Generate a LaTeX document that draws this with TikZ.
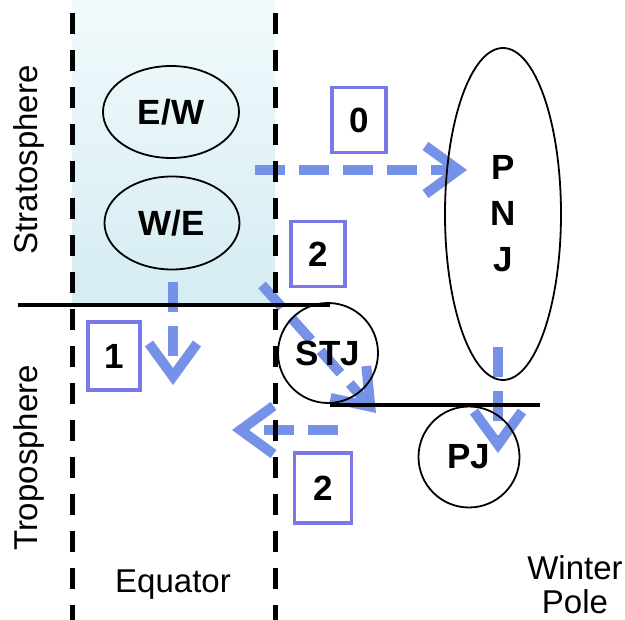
\documentclass[tikz,border=0pt]{standalone}
\usepackage{fontspec}
\setmainfont{Liberation Sans}
\usetikzlibrary{arrows.meta,shapes.geometric}
\definecolor{boxblue}{RGB}{120,120,232}
\definecolor{flowblue}{RGB}{118,146,232}
\definecolor{zonetop}{RGB}{242,250,252}
\definecolor{zonebot}{RGB}{212,236,242}
\tikzset{
  bound/.style={line width=5pt, dash pattern=on 21pt off 16pt},
  level/.style={line width=3.6pt},
  flow/.style={line width=10pt, draw=flowblue, dash pattern=on 30pt off 14pt,
    -{Straight Barb[length=33pt,width=48pt]}},
  numbox/.style={draw=boxblue, line width=3.5pt, minimum width=54pt,
    minimum height=65pt, inner sep=0pt, font=\fontsize{35}{40}\selectfont\bfseries},
  jet/.style={draw, line width=1.8pt, inner sep=0pt,
    font=\fontsize{35}{46}\selectfont\bfseries, align=center},
  lbl/.style={font=\fontsize{33}{34}\selectfont, align=center}
}
\begin{document}
\begin{tikzpicture}[x=1pt,y=-1pt]
\useasboundingbox (0,0) rectangle (625,620);

% tropical stratosphere band
\shade[top color=zonetop, bottom color=zonebot] (72,0) rectangle (275,305);

% free ends of the flow arrows
\coordinate (a0s) at (255,170);  \coordinate (a0e) at (467,170);
\coordinate (a1s) at (173,282);  \coordinate (a1e) at (173,385);
\coordinate (a2s) at (262,285);  \coordinate (a2e) at (376,413);
\coordinate (a3s) at (338,430);  \coordinate (a3e) at (232,430);
\coordinate (a4s) at (498,347);  \coordinate (a4e) at (498,453);

\draw[flow] (a0s) -- (a0e);
\draw[flow] (a1s) -- (a1e);
\draw[flow] (a2s) -- (a2e);
\draw[flow] (a3s) -- (a3e);
\draw[flow] (a4s) -- (a4e);

% tropical boundaries
\coordinate (l1) at (72,13);  \coordinate (l2) at (72,620);
\coordinate (r1) at (275,13); \coordinate (r2) at (275,620);
\draw[bound] (l1) -- (l2);
\draw[bound] (r1) -- (r2);

% tropopause
\coordinate (t1) at (18,305);  \coordinate (t2) at (330,305);
\coordinate (t3) at (330,405); \coordinate (t4) at (540,405);
\draw[level] (t1) -- (t2);
\draw[level] (t3) -- (t4);

% jets and wind regimes
\node[jet, ellipse, minimum width=136pt, minimum height=92pt] (ew) at (171,112) {E/W};
\node[jet, ellipse, minimum width=135pt, minimum height=93pt] (we) at (172,223) {W/E};
\node[jet, ellipse, minimum width=116pt, minimum height=332pt] (pnj) at (503,214) {P\\N\\J};
\node[jet, circle, minimum size=100pt] (stj) at (328,353) {STJ};
\node[jet, circle, minimum size=101pt] (pj) at (469,457) {PJ};

% pathway numbers
\node[numbox] (n0) at (359,120) {0};
\node[numbox] (n2a) at (318,254) {2};
\node[numbox, minimum width=52pt, minimum height=68pt] (n1) at (114,356) {1};
\node[numbox, minimum width=57pt, minimum height=70pt] (n2b) at (323,488) {2};

% axis labels
\node[lbl, rotate=90] (strat) at (29,160) {Stratosphere};
\node[lbl, rotate=90] (trop) at (29,458) {Troposphere};
\node[lbl] (eq) at (173,585) {Equator};
\node[lbl] (pole) at (575,585) {Winter\\Pole};
\end{tikzpicture}
\end{document}
